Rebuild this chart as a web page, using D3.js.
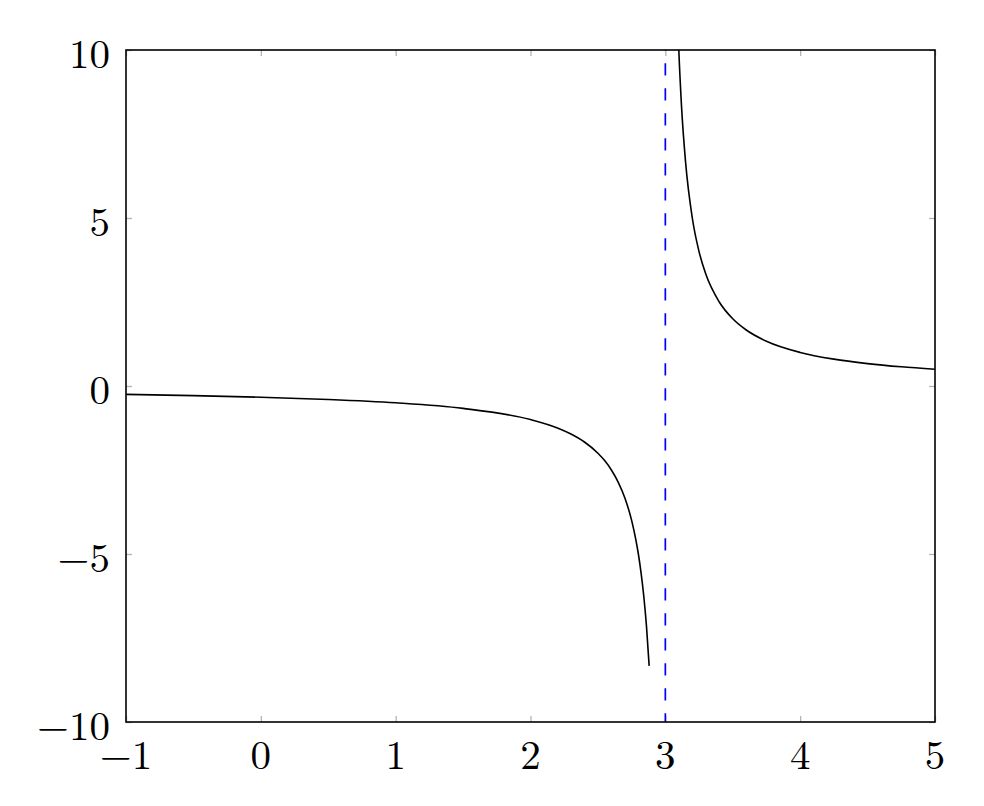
<!DOCTYPE html>
<html><head><meta charset="utf-8">
<script src="https://cdn.jsdelivr.net/npm/d3@7"></script>
<style>body{margin:0;background:#fff}</style>
</head><body>
<script>
const xTicks = [-1, 0, 1, 2, 3, 4, 5];
const yTicks = [-10, -5, 0, 5, 10];
const leftX = [-1, -0.5, 0, 0.5, 1, 1.5, 2, 2.2, 2.3, 2.4, 2.5, 2.55, 2.6, 2.65, 2.7, 2.75, 2.78, 2.8, 2.82, 2.84, 2.86, 2.88];
const leftY = [-0.25, -0.286, -0.333, -0.4, -0.5, -0.667, -1, -1.25, -1.43, -1.667, -2, -2.22, -2.5, -2.86, -3.333, -4, -4.55, -5, -5.56, -6.25, -7.14, -8.33];
const rightX = [3.08, 3.1, 3.12, 3.15, 3.2, 3.25, 3.3, 3.4, 3.5, 3.6, 3.75, 4, 4.25, 4.5, 4.75, 5];
const rightY = [12.5, 10, 8.33, 6.67, 5, 4, 3.33, 2.5, 2, 1.667, 1.333, 1, 0.8, 0.667, 0.571, 0.5];
const asymptoteX = 3;

const W = 984, H = 806;
const L = 126, R = 935, T = 50, B = 722;
const svg = d3.select("body").append("svg").attr("width", W).attr("height", H);
const x = d3.scaleLinear().domain([-1, 5]).range([L, R]);
const y = d3.scaleLinear().domain([-10, 10]).range([B, T]);
const fmt = d => d < 0 ? "\u2212" + Math.abs(d) : String(d);
const font = "'Latin Modern Roman', 'CMU Serif', 'Liberation Serif', serif";

svg.append("clipPath").attr("id", "clip").append("rect")
  .attr("x", L).attr("y", T).attr("width", R - L).attr("height", B - T);

const tickStyle = g => { g.select(".domain").remove(); g.selectAll("line").attr("stroke", "#b4b4b4").attr("stroke-width", 1.3); g.selectAll("text").remove(); };
svg.append("g").attr("transform", `translate(0,${B})`).call(d3.axisTop(x).tickValues(xTicks).tickSize(6)).call(tickStyle);
svg.append("g").attr("transform", `translate(0,${T})`).call(d3.axisBottom(x).tickValues(xTicks).tickSize(6)).call(tickStyle);
svg.append("g").attr("transform", `translate(${L},0)`).call(d3.axisRight(y).tickValues(yTicks).tickSize(6)).call(tickStyle);
svg.append("g").attr("transform", `translate(${R},0)`).call(d3.axisLeft(y).tickValues(yTicks).tickSize(6)).call(tickStyle);

svg.append("line").attr("x1", x(asymptoteX)).attr("x2", x(asymptoteX))
  .attr("y1", y(10)).attr("y2", y(-10))
  .attr("stroke", "#0000ff").attr("stroke-width", 1.7)
  .attr("stroke-dasharray", "12.3,12.7").attr("stroke-dashoffset", 11.7);

const line = d3.line().x(d => x(d[0])).y(d => y(d[1])).curve(d3.curveMonotoneX);
const g = svg.append("g").attr("clip-path", "url(#clip)");
g.append("path").datum(leftX.map((v, i) => [v, leftY[i]])).attr("d", line)
  .attr("fill", "none").attr("stroke", "#000").attr("stroke-width", 1.6);
g.append("path").datum(rightX.map((v, i) => [v, rightY[i]])).attr("d", line)
  .attr("fill", "none").attr("stroke", "#000").attr("stroke-width", 1.6);

svg.append("rect").attr("x", L).attr("y", T).attr("width", R - L).attr("height", B - T)
  .attr("fill", "none").attr("stroke", "#000").attr("stroke-width", 1.6);

svg.append("g").selectAll("text").data(xTicks).join("text")
  .attr("x", d => x(d)).attr("y", B + 30).attr("text-anchor", "middle").attr("dominant-baseline", "central")
  .attr("font-family", font).attr("font-size", 41).text(fmt);
svg.append("g").selectAll("text").data(yTicks).join("text")
  .attr("x", L - 16).attr("y", d => y(d) + 1).attr("text-anchor", "end").attr("dominant-baseline", "central")
  .attr("font-family", font).attr("font-size", 41).text(fmt);
</script>
</body></html>
